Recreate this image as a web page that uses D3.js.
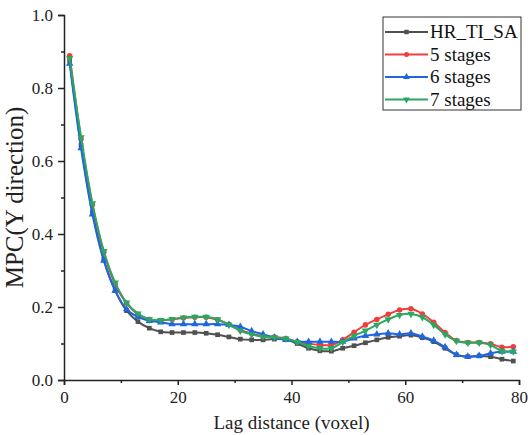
<!DOCTYPE html>
<html>
<head>
<meta charset="utf-8">
<script src="https://cdn.jsdelivr.net/npm/d3@7"></script>
<style>
  body { margin: 0; background: #fff; }
  text { font-family: "Liberation Serif", "Times New Roman", serif; }
</style>
</head>
<body>
<div id="chart"></div>
<script>
// Chart size
var width = 531;
var height = 435;

// Lag distances (voxel)
var lags = [1, 3, 5, 7, 9, 11, 13, 15, 17, 19, 21, 23, 25, 27, 29, 31, 33, 35, 37, 39,
            41, 43, 45, 47, 49, 51, 53, 55, 57, 59, 61, 63, 65, 67, 69, 71, 73, 75, 77, 79];

// MPC values per series
var hrTiSa = [0.875, 0.644, 0.46, 0.33, 0.245, 0.19, 0.16, 0.142, 0.132, 0.13, 0.13, 0.13, 0.128, 0.124, 0.118, 0.112, 0.11, 0.11, 0.112, 0.111,
              0.100, 0.087, 0.080, 0.079, 0.087, 0.094, 0.102, 0.110, 0.117, 0.120, 0.123, 0.116, 0.105, 0.087, 0.069, 0.064, 0.066, 0.064, 0.057, 0.052];
var stages5 = [0.888, 0.66, 0.48, 0.35, 0.262, 0.21, 0.18, 0.166, 0.163, 0.166, 0.17, 0.172, 0.172, 0.165, 0.152, 0.137, 0.127, 0.12, 0.118, 0.114,
               0.105, 0.100, 0.096, 0.096, 0.110, 0.131, 0.151, 0.166, 0.180, 0.192, 0.195, 0.181, 0.158, 0.130, 0.108, 0.103, 0.103, 0.099, 0.090, 0.091];
var stages6 = [0.867, 0.635, 0.454, 0.327, 0.245, 0.194, 0.173, 0.162, 0.158, 0.153, 0.153, 0.153, 0.153, 0.153, 0.151, 0.146, 0.134, 0.125, 0.116, 0.11,
               0.105, 0.105, 0.105, 0.105, 0.105, 0.114, 0.121, 0.125, 0.128, 0.125, 0.128, 0.119, 0.108, 0.090, 0.069, 0.064, 0.066, 0.073, 0.078, 0.078];
var stages7 = [0.881, 0.665, 0.484, 0.353, 0.267, 0.212, 0.182, 0.166, 0.164, 0.167, 0.171, 0.173, 0.173, 0.166, 0.151, 0.135, 0.125, 0.119, 0.117, 0.113,
               0.104, 0.093, 0.087, 0.087, 0.104, 0.121, 0.135, 0.151, 0.166, 0.178, 0.181, 0.172, 0.151, 0.125, 0.107, 0.102, 0.102, 0.096, 0.079, 0.078];

var seriesNames = ["HR_TI_SA", "5 stages", "6 stages", "7 stages"];
var seriesValues = [hrTiSa, stages5, stages6, stages7];
var seriesColors = ["#505050", "#ef3e3e", "#1f66e0", "#2aa862"];
var seriesSymbols = [d3.symbolSquare, d3.symbolCircle, d3.symbolTriangle, d3.symbolTriangle];

var xTicks = [0, 20, 40, 60, 80];
var yTicks = [0, 0.2, 0.4, 0.6, 0.8, 1.0];

var margin = { left: 64, right: 12, top: 15, bottom: 55 };
var serif = "'Liberation Serif', 'Times New Roman', serif";

function createSVG(width, height) {
    return d3.select("#chart")
        .append("svg")
        .attr("width", width)
        .attr("height", height);
}

function main() {
    var svg = createSVG(width, height);

    var x = d3.scaleLinear().domain([0, 80]).range([margin.left, width - margin.right]);
    var y = d3.scaleLinear().domain([0, 1]).range([height - margin.bottom, margin.top]);

    // Axes with major + minor ticks
    svg.append("g")
        .attr("transform", "translate(0," + y(0) + ")")
        .call(d3.axisBottom(x).tickValues(xTicks).tickSize(5).tickPadding(6).tickFormat(d3.format("d")));
    svg.append("g")
        .attr("transform", "translate(0," + y(0) + ")")
        .call(d3.axisBottom(x).tickValues([10, 30, 50, 70]).tickSize(3).tickFormat(""))
        .select(".domain").remove();

    svg.append("g")
        .attr("transform", "translate(" + x(0) + ",0)")
        .call(d3.axisLeft(y).tickValues(yTicks).tickSize(6).tickPadding(5).tickFormat(d3.format(".1f")));
    svg.append("g")
        .attr("transform", "translate(" + x(0) + ",0)")
        .call(d3.axisLeft(y).tickValues([0.1, 0.3, 0.5, 0.7, 0.9]).tickSize(3).tickFormat(""))
        .select(".domain").remove();

    svg.selectAll(".domain").attr("stroke", "#222").attr("stroke-width", 1.5);
    svg.selectAll(".tick line").attr("stroke", "#222").attr("stroke-width", 1.5);
    svg.selectAll(".tick text")
        .attr("font-family", serif)
        .attr("font-size", 17)
        .attr("fill", "#222");

    // Axis titles
    svg.append("text")
        .attr("x", (x(0) + x(80)) / 2)
        .attr("y", 429)
        .attr("text-anchor", "middle")
        .attr("font-family", serif)
        .attr("font-size", 19)
        .attr("fill", "#222")
        .text("Lag distance (voxel)");

    svg.append("text")
        .attr("transform", "translate(23," + y(0.5) + ") rotate(-90)")
        .attr("text-anchor", "middle")
        .attr("font-family", serif)
        .attr("font-size", 25)
        .attr("fill", "#222")
        .text("MPC(Y direction)");

    // Lines and markers
    var line = d3.line()
        .x(function(d, i) { return x(lags[i]); })
        .y(function(d) { return y(d); })
        .curve(d3.curveCatmullRom.alpha(0.5));

    seriesValues.forEach(function(vals, s) {
        var g = svg.append("g");
        g.append("path")
            .datum(vals)
            .attr("fill", "none")
            .attr("stroke", seriesColors[s])
            .attr("stroke-width", 2)
            .attr("d", line);

        g.selectAll("path.mark")
            .data(vals)
            .enter()
            .append("path")
            .attr("class", "mark")
            .attr("d", d3.symbol().type(seriesSymbols[s]).size(s === 0 ? 22 : 24))
            .attr("fill", seriesColors[s])
            .attr("transform", function(d, i) {
                return "translate(" + x(lags[i]) + "," + y(d) + ")" + (s === 3 ? " rotate(180)" : "");
            });
    });

    // Legend
    var legend = svg.append("g").attr("transform", "translate(383,17)");
    legend.append("rect")
        .attr("x", 0).attr("y", 0)
        .attr("width", 138).attr("height", 93)
        .attr("fill", "#fff")
        .attr("stroke", "#333")
        .attr("stroke-width", 1);

    seriesNames.forEach(function(name, s) {
        var cy = 15 + s * 22.5;
        legend.append("line")
            .attr("x1", 2).attr("x2", 45)
            .attr("y1", cy).attr("y2", cy)
            .attr("stroke", seriesColors[s])
            .attr("stroke-width", 2);
        legend.append("path")
            .attr("d", d3.symbol().type(seriesSymbols[s]).size(20))
            .attr("fill", seriesColors[s])
            .attr("transform", "translate(23.5," + cy + ")" + (s === 3 ? " rotate(180)" : ""));
        legend.append("text")
            .attr("x", 47)
            .attr("y", cy + 6)
            .attr("font-family", serif)
            .attr("font-size", 19)
            .attr("fill", "#111")
            .text(name);
    });
}

window.onload = function() {
    main();
};
</script>
</body>
</html>
